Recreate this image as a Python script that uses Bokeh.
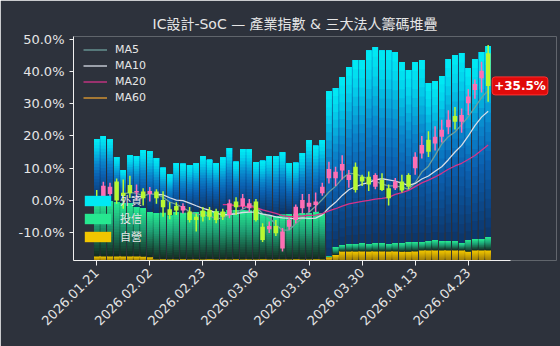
import numpy as np
import pandas as pd
from bokeh.plotting import figure
from bokeh.models import (Range1d, Legend, LegendItem, Label, FixedTicker,
                          PrintfTickFormatter, ColumnDataSource)
from bokeh.embed import file_html
from bokeh.resources import INLINE

# ---------------- data ----------------
dates = ["2026.01.21", "2026.01.22", "2026.01.23", "2026.01.26", "2026.01.27", "2026.01.28", "2026.01.29", "2026.01.30",
         "2026.02.02", "2026.02.03", "2026.02.04", "2026.02.05", "2026.02.06", "2026.02.09", "2026.02.10", "2026.02.11",
         "2026.02.23", "2026.02.24", "2026.02.25", "2026.02.26", "2026.03.02", "2026.03.03", "2026.03.04", "2026.03.05",
         "2026.03.06", "2026.03.09", "2026.03.10", "2026.03.11", "2026.03.12", "2026.03.13", "2026.03.16", "2026.03.17",
         "2026.03.18", "2026.03.19", "2026.03.20", "2026.03.23", "2026.03.24", "2026.03.25", "2026.03.26", "2026.03.27",
         "2026.03.30", "2026.03.31", "2026.04.01", "2026.04.02", "2026.04.07", "2026.04.08", "2026.04.09", "2026.04.10",
         "2026.04.13", "2026.04.14", "2026.04.15", "2026.04.16", "2026.04.17", "2026.04.20", "2026.04.21", "2026.04.22",
         "2026.04.23", "2026.04.24", "2026.04.27", "2026.04.28"]

# industry index, cumulative return in %
open_ = [1.2, 0.7, 2.0, 5.9, 2.4, 4.8, 2.5, 2.8, 2.0, 2.8,
         0.2, -2.7, -1.7, -3.1, -3.4, -5.0, -3.1, -2.9, -3.4, -3.4,
         -4.5, -0.3, -1.7, -2.4, -0.3, -8.1, -8.9, -7.9, -14.8, -8.1,
         -6.0, -2.4, -1.9, -1.4, 2.3, 6.9, 6.9, 9.3, 6.4, 10.5,
         7.4, 7.4, 4.3, 6.4, 3.8, 3.8, 5.9, 7.9, 10.0, 14.6,
         18.8, 17.7, 19.8, 22.7, 26.2, 24.4, 30.1, 34.2, 37.9, 45.6]
close = [-0.3, 4.6, 4.3, 0.0, 1.4, 2.3, 3.0, 0.7, 3.0, 0.7,
         -2.1, -4.5, -3.1, -1.7, -6.0, -6.0, -5.0, -5.0, -6.0, -5.0,
         -0.8, -2.1, 0.7, -0.8, -6.0, -12.2, -7.9, -10.1, -9.6, -6.0,
         -1.9, 0.2, -0.7, -0.3, 4.3, 9.8, 8.9, 11.3, 7.9, 3.3,
         5.9, 5.0, 7.9, 3.3, 0.7, 5.9, 3.1, 4.3, 13.6, 17.2,
         15.1, 19.8, 21.9, 25.0, 24.4, 26.5, 32.2, 36.1, 40.2, 35.5]
high = [3.3, 5.8, 5.5, 6.8, 6.5, 7.7, 5.0, 3.8, 4.2, 3.5,
        2.9, -0.5, -0.5, -0.8, -2.0, -4.0, -2.0, -2.0, -2.5, -2.5,
        0.3, 1.0, 2.0, 0.5, 0.5, -7.0, -6.5, -6.0, -8.5, -5.2,
        -1.2, 2.0, 2.0, 2.5, 5.5, 12.0, 10.5, 14.0, 9.5, 11.8,
        8.0, 9.0, 8.5, 8.5, 5.0, 7.0, 8.0, 8.5, 15.0, 20.0,
        21.5, 23.0, 25.0, 28.0, 29.0, 28.5, 34.5, 37.5, 43.0, 48.2]
low = [-1.4, 0.0, 0.8, -1.0, -2.5, 0.8, 0.0, -1.5, -0.3, -1.0,
       -5.0, -5.8, -4.5, -4.0, -6.8, -9.6, -6.5, -6.0, -7.0, -6.0,
       -5.5, -4.5, -2.5, -3.5, -6.5, -12.8, -10.0, -11.0, -15.8, -9.0,
       -7.0, -4.0, -3.5, -3.5, 1.5, 5.3, 4.5, 6.5, 4.0, 2.5,
       4.5, 3.0, 3.5, 3.0, -1.5, 3.3, 2.5, 3.5, 8.0, 13.0,
       13.5, 15.5, 18.0, 20.5, 22.0, 21.0, 26.5, 31.5, 33.5, 30.6]

# institutional holdings stack (relative units), bottom -> top
dealer = [1.8, 1.8, 1.8, 1.8, 1.8, 1.8, 1.8, 1.7, 1.5, 0.5,
          0.6, 0.4, 0.5, 0.6, 0.5, 0.4, 0.5, 0.6, 0.5, 0.4,
          0.5, 0.6, 0.5, 0.4, 0.5, 0.6, 0.5, 0.5, 0.4, 0.5,
          0.6, 0.5, 0.5, 0.6, 0.5, 1.5, 2.4, 4.0, 4.0, 4.0,
          4.0, 4.0, 4.0, 4.0, 4.0, 4.0, 3.9, 3.9, 4.0, 4.5,
          4.5, 4.5, 4.5, 4.5, 4.5, 4.5, 3.9, 4.5, 4.5, 4.5]
trust = [24.8, 25.2, 24.8, 24.3, 23.9, 23.9, 22.1, 21.7, 20.2, 20.7,
         20.7, 19.8, 21.2, 20.7, 20.7, 21.2, 21.6, 21.2, 21.6, 21.2,
         22.0, 22.0, 22.0, 22.0, 22.0, 20.3, 19.8, 19.4, 20.3, 20.3,
         20.3, 20.7, 20.7, 21.2, 20.7, 0.5, 3.6, 2.9, 3.4, 3.4,
         3.8, 3.4, 3.8, 3.8, 3.4, 3.8, 3.9, 4.4, 4.3, 3.8,
         4.2, 4.7, 4.2, 4.2, 4.2, 3.3, 5.3, 5.1, 5.1, 6.0]
foreign = [27.6, 28.6, 27.6, 20.1, 14.7, 21.4, 22.8, 25.9, 27.2, 24.6,
           20.1, 18.3, 21.8, 21.9, 21.4, 21.8, 24.6, 23.2, 21.4, 24.5,
           27.7, 21.5, 27.3, 27.3, 21.5, 23.6, 26.4, 26.8, 27.6, 22.7,
           22.7, 26.8, 32.6, 29.4, 32.6, 73.7, 71.0, 75.0, 79.0, 82.1,
           81.7, 86.4, 87.5, 86.0, 86.4, 85.3, 80.8, 76.7, 80.3, 81.2,
           70.5, 70.9, 73.7, 81.3, 83.0, 84.8, 76.7, 80.4, 83.5, 85.3]

stack_names = ["外資", "投信", "自營"]
ma_windows = [5, 10, 20, 60]
tick_step = 8

# ---------------- style ----------------
BG = "#2d323c"
TXT = "#e6e6e6"
PINK = "#ff6eb4"
LIME = "#b8f832"
MA_COLORS = ["#6f9f9c", "#d8dde6", "#d6338a", "#e8a030"]
BLUE_STOPS = [(0.0, "#00eef4"), (0.15, "#02d2ec"), (0.4, "#0a86cc"), (0.6, "#0b60b0"), (1.0, "#0c3468")]
GREEN_STOPS = [(0.0, "#26ec92"), (0.4, "#1fa577"), (1.0, "#14281f")]
YELLOW_STOPS = [(0.0, "#f4c800"), (1.0, "#9a7a08")]
FONT = "DejaVu Sans, Noto Sans CJK TC"


def _rgb(h):
    return tuple(int(h[i:i + 2], 16) for i in (1, 3, 5))


def grad(stops, t):
    for (t0, c0), (t1, c1) in zip(stops, stops[1:]):
        if t <= t1:
            f = (t - t0) / (t1 - t0)
            a, b = _rgb(c0), _rgb(c1)
            return "#%02x%02x%02x" % tuple(int(round(a[i] + (b[i] - a[i]) * f)) for i in range(3))
    return stops[-1][1]


n = len(dates)
x = np.arange(n)

X0, X1_AXIS, X1 = -3.5, 62.3, 69.3
p = figure(width=560, height=346, output_backend="svg", toolbar_location=None,
           x_range=Range1d(X0, X1), y_range=Range1d(-18.55, 50.8),
           min_border_left=73, min_border_right=4, min_border_top=36, min_border_bottom=86)
p.extra_y_ranges = {"stack": Range1d(0, 100)}
p.background_fill_color = BG
p.border_fill_color = BG
p.outline_line_color = None
p.xgrid.visible = False
p.ygrid.visible = False

# ---- stacked bars with vertical gradients ----
NS = 20
base = np.zeros(n)
top_r = []
for vals, stops in [(dealer, YELLOW_STOPS), (trust, GREEN_STOPS), (foreign, BLUE_STOPS)]:
    v = np.array(vals, dtype=float)
    r = None
    for k in range(NS):
        col = grad(stops, 1 - (k + 0.5) / NS)
        r = p.vbar(x=x, width=0.8, bottom=base + v * k / NS, top=base + v,
                   fill_color=col, line_color=None, y_range_name="stack")
    top_r.append(r)
    base = base + v

# ---- moving averages ----
cs = pd.Series(close, dtype=float)
ma_r = []
for w, c in zip(ma_windows, MA_COLORS):
    ma_r.append(p.line(x, cs.rolling(w).mean().to_numpy(), line_color=c, line_width=1.3))

# ---- candles ----
o = np.array(open_)
c = np.array(close)
cols = np.where(c >= o, PINK, LIME)
src = ColumnDataSource(dict(x=x, hi=high, lo=low, top=np.maximum(o, c), bot=np.minimum(o, c), col=cols))
p.segment(x0="x", y0="lo", x1="x", y1="hi", line_color="col", line_width=1.5, source=src)
p.vbar(x="x", width=0.68, top="top", bottom="bot", fill_color="col", line_color=None, source=src)

# ---- axes ----
p.xaxis.ticker = FixedTicker(ticks=list(range(0, n, tick_step)))
p.xaxis.major_label_overrides = {int(i): dates[i] for i in range(0, n, tick_step)}
p.xaxis.major_label_orientation = np.pi / 4
p.xaxis.bounds = (X0, X1_AXIS)
p.yaxis.ticker = FixedTicker(ticks=[-10, 0, 10, 20, 30, 40, 50])
p.yaxis.formatter = PrintfTickFormatter(format="%.1f%%")
for ax in (p.xaxis, p.yaxis):
    ax.axis_line_color = "#f0f0f0"
    ax.major_tick_line_color = "#f0f0f0"
    ax.minor_tick_line_color = None
    ax.major_tick_in = 0
    ax.major_label_text_color = TXT
    ax.major_label_text_font = "DejaVu Sans"
    ax.major_label_text_font_size = "13px"
p.xaxis.major_tick_out = 5
p.yaxis.major_tick_out = 4
p.yaxis.major_label_standoff = 5

# ---- title ----
p.title.text = "IC設計-SoC — 產業指數 & 三大法人籌碼堆疊"
p.title.align = "left"
p.title.offset = 79
p.title.text_color = TXT
p.title.text_font = FONT
p.title.text_font_size = "14px"
p.title.text_font_style = "normal"

# ---- legends ----
leg1 = Legend(items=[LegendItem(label="MA%d" % w, renderers=[r]) for w, r in zip(ma_windows, ma_r)],
              location=(6, 152), glyph_width=24, glyph_height=13, spacing=3, padding=4,
              label_standoff=8, label_height=13, margin=0, background_fill_alpha=0, border_line_alpha=0,
              label_text_color=TXT, label_text_font="DejaVu Sans", label_text_font_size="11px")
p.add_layout(leg1)
leg2 = Legend(items=[LegendItem(label=stack_names[0], renderers=[top_r[2]]),
                     LegendItem(label=stack_names[1], renderers=[top_r[1]]),
                     LegendItem(label=stack_names[2], renderers=[top_r[0]])],
              location=(4, 12), glyph_width=33, glyph_height=13, spacing=2, padding=4,
              label_standoff=6, label_height=13, margin=0, background_fill_alpha=0, border_line_alpha=0,
              label_text_color=TXT, label_text_font=FONT, label_text_font_size="11px")
p.add_layout(leg2)

# ---- last value label ----
lab = Label(x=x[-1], y=close[-1], x_offset=4, text="%+.1f%%" % close[-1],
            text_color="white", text_font="DejaVu Sans", text_font_style="bold",
            text_font_size="12px", text_baseline="middle",
            background_fill_color="#e00a0a", border_line_color="#ff3030",
            padding=2, border_radius=3)
p.add_layout(lab)

open("out.html", "w").write(file_html(p, INLINE))
